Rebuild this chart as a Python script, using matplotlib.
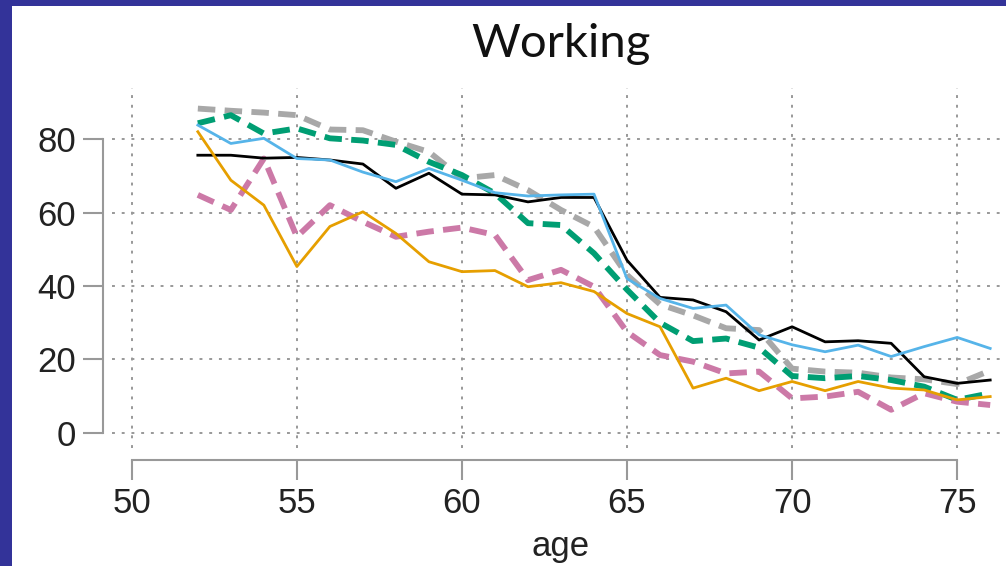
import matplotlib
matplotlib.use("Agg")
import matplotlib.pyplot as plt
from matplotlib.patches import Rectangle

ages = list(range(52, 77))

black = [75.6, 75.6, 74.8, 75.0, 74.3, 73.2, 66.6, 70.7, 65.0, 64.8, 62.9, 64.1, 64.1,
         47.0, 36.9, 36.2, 33.0, 25.3, 28.9, 24.8, 25.1, 24.4, 15.3, 13.5, 14.4]
blue = [83.8, 78.8, 80.2, 74.7, 74.3, 71.0, 68.4, 72.0, 68.8, 65.4, 64.5, 64.8, 65.0,
        42.0, 36.6, 33.9, 34.8, 26.7, 24.0, 22.1, 23.9, 20.8, 23.5, 26.0, 23.0]
orange = [82.0, 68.8, 62.0, 45.3, 56.2, 60.2, 54.3, 46.6, 43.9, 44.2, 39.8, 40.9, 38.5,
          32.5, 28.9, 12.2, 14.9, 11.5, 14.0, 11.5, 14.0, 12.2, 11.7, 9.0, 9.9]
gray = [88.3, 87.7, 87.2, 86.5, 82.6, 82.4, 79.3, 76.5, 69.3, 70.2, 66.1, 60.7, 56.1,
        43.0, 35.0, 32.0, 28.5, 28.0, 17.5, 16.7, 16.4, 15.1, 14.6, 13.3, 17.0]
green = [84.3, 86.5, 81.5, 82.9, 80.2, 79.6, 78.4, 73.8, 70.2, 65.2, 57.1, 56.6, 48.9,
         39.0, 30.0, 25.0, 25.7, 23.2, 15.5, 14.9, 15.5, 14.4, 12.6, 9.0, 10.8]
pink = [64.8, 60.7, 74.7, 53.4, 62.0, 57.5, 53.4, 54.8, 55.9, 53.9, 41.6, 44.4, 39.8,
        27.5, 21.2, 19.4, 16.2, 16.7, 9.4, 9.9, 11.2, 6.3, 10.8, 8.5, 7.6]

xticks = [50, 55, 60, 65, 70, 75]
yticks = [0, 20, 40, 60, 80]

W, H = 1006, 566
fig = plt.figure(figsize=(W / 100, H / 100), dpi=100, facecolor="#333399")
fig.patches.append(Rectangle((12 / W, 0), 1 - 12 / W, 1 - 6 / H, transform=fig.transFigure,
                             facecolor="white", edgecolor="none", zorder=-10))

left, right, top, bottom = 112, 1010, 88, 448
ax = fig.add_axes([left / W, 1 - bottom / H, (right - left) / W, (bottom - top) / H])
ax.set_zorder(5)
ax.set_facecolor("none")

dash = (0, (3.0, 1.6))
ax.plot(ages, black, color="black", lw=2.0, zorder=3)
ax.plot(ages, blue, color="#56B4E9", lw=2.0, zorder=3)
ax.plot(ages, orange, color="#E69F00", lw=2.0, zorder=3)
ax.plot(ages, gray, color="#A8A8A8", lw=4.2, ls=dash, zorder=2)
ax.plot(ages, green, color="#009E73", lw=4.2, ls=dash, zorder=2)
ax.plot(ages, pink, color="#CC79A7", lw=4.2, ls=dash, zorder=2)

ax.set_xlim(49.4, 76.6)
ax.set_ylim(-4.1, 93.9)
ax.set_xticks(xticks)
ax.set_yticks(yticks)
ax.grid(True, color="#999999", lw=1.4, ls=(0, (1.5, 3.5)))
ax.set_axisbelow(True)

for s in ["top", "right"]:
    ax.spines[s].set_visible(False)
ax.spines["left"].set_position(("outward", 6.5))
ax.spines["bottom"].set_position(("outward", 8.6))
ax.spines["left"].set_bounds(0, 80)
ax.spines["bottom"].set_bounds(50, 75)
for s in ["left", "bottom"]:
    ax.spines[s].set_color("#999999")
    ax.spines[s].set_linewidth(1.5)

ax.tick_params(axis="both", direction="out", length=14.5, width=1.5, color="#999999",
               labelsize=25, labelcolor="#222222", pad=5)
for lab in ax.get_xticklabels() + ax.get_yticklabels():
    lab.set_fontfamily("Liberation Sans")

ax.set_title("Working", fontsize=34, family="Lato", color="#111111", pad=22)
ax.set_xlabel("age", fontsize=25, family="Liberation Sans", color="#222222", labelpad=7)

fig.savefig("out.png", dpi=100, facecolor=fig.get_facecolor())
